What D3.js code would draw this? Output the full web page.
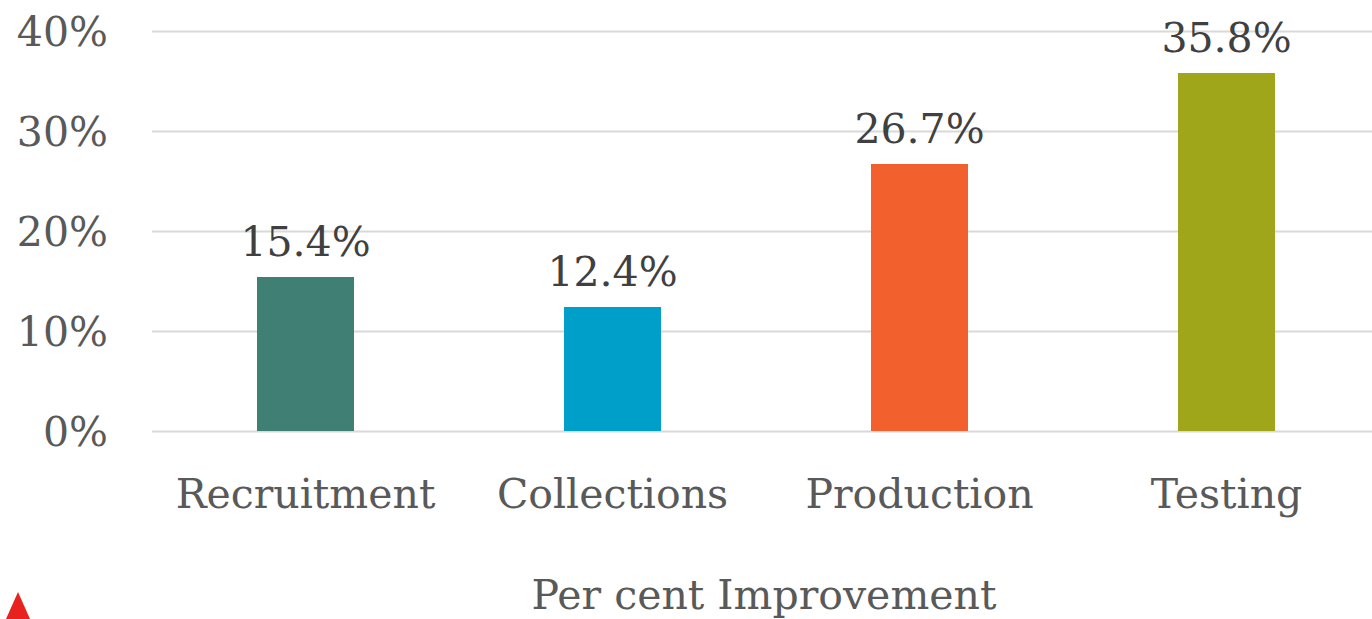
<!DOCTYPE html>
<html><head><meta charset="utf-8">
<script src="https://cdn.jsdelivr.net/npm/d3@7/dist/d3.min.js"></script>
<style>body{margin:0;background:#fff;}svg{display:block;}</style>
</head><body>
<svg id="chart" width="1372" height="619"></svg>
<script>
const categories = ["Recruitment", "Collections", "Production", "Testing"];
const values = [15.4, 12.4, 26.7, 35.8];
const colors = ["#407F73", "#009FCA", "#F2602D", "#9FA61A"];
const yTicks = [0, 10, 20, 30, 40];
const axisTitle = "Per cent Improvement";

const svg = d3.select("#chart");
const font = "'DejaVu Serif', serif";
const fs = 41;
const x = d3.scaleBand().domain(categories).range([152, 1380]).paddingInner(0.684).paddingOuter(0.342);
const y = d3.scaleLinear().domain([0, 40]).range([431, 31]);

// gridlines
svg.append("g").selectAll("line").data(yTicks).join("line")
  .attr("x1", 152).attr("x2", 1372)
  .attr("y1", d => y(d) + 0.5).attr("y2", d => y(d) + 0.5)
  .attr("stroke", "#d9d9d9").attr("stroke-width", 2);

// y tick labels
svg.append("g").selectAll("text").data(yTicks).join("text")
  .attr("x", 108).attr("y", d => y(d)).attr("dy", "0.36em")
  .attr("text-anchor", "end").attr("font-family", font).attr("font-size", fs)
  .attr("fill", "#595959").text(d => d + "%");

// bars
svg.append("g").selectAll("rect").data(values).join("rect")
  .attr("x", (d, i) => x(categories[i])).attr("width", x.bandwidth())
  .attr("y", d => y(d)).attr("height", d => y(0) - y(d))
  .attr("fill", (d, i) => colors[i]);

// value labels
svg.append("g").selectAll("text").data(values).join("text")
  .attr("x", (d, i) => x(categories[i]) + x.bandwidth() / 2)
  .attr("y", d => y(d) - 21)
  .attr("text-anchor", "middle").attr("font-family", font).attr("font-size", fs)
  .attr("fill", "#404040").text(d => d.toFixed(1) + "%");

// category labels
svg.append("g").selectAll("text").data(categories).join("text")
  .attr("x", d => x(d) + x.bandwidth() / 2).attr("y", 508)
  .attr("text-anchor", "middle").attr("font-family", font).attr("font-size", fs)
  .attr("fill", "#595959").text(d => d);

// axis title
svg.append("text").attr("x", 764).attr("y", 609)
  .attr("text-anchor", "middle").attr("font-family", font).attr("font-size", fs)
  .attr("fill", "#595959").text(axisTitle);

// red logo fragment
svg.append("path").attr("d", "M6,619 L18,592 L30,619 Z").attr("fill", "#E8231F");
</script>
</body></html>
